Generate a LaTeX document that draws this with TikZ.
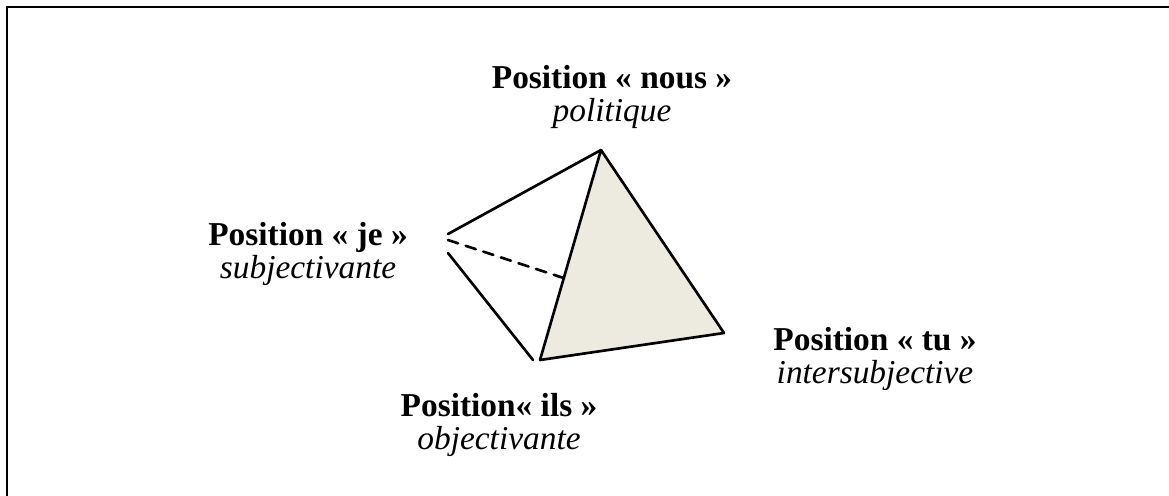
\documentclass[tikz,border=0pt]{standalone}
\usepackage{fontspec}
\setmainfont{Liberation Serif}
\usetikzlibrary{positioning, calc}
\definecolor{facegray}{RGB}{237,234,224}

\begin{document}
\begin{tikzpicture}[
        x=0.3774pt, y=-0.3774pt,
        label/.style={align=center, inner sep=0pt, font=\fontsize{12.6}{12.3}\selectfont},
        edge/.style={draw=black, line width=1pt, line cap=round},
        hidden/.style={edge, dashed, dash pattern=on 4pt off 3pt}
    ]
    \useasboundingbox (0,0) rectangle (1169,496);

    % Frame
    \draw[line width=0.8pt] (7,496) -- (7,7) -- (1169,7);

    % Vertices
    \coordinate (top) at (601,150);
    \coordinate (right) at (724,333);
    \coordinate (bottom) at (540,360);
    \coordinate (leftA) at (448,234);
    \coordinate (leftB) at (448,240);
    \coordinate (leftC) at (448,253);
    \coordinate (bottomL) at (533,360);
    \coordinate (behind) at ($(top)!0.61!(bottom)$);

    % Faces
    \filldraw[edge, fill=facegray, line join=round] (top) -- (right) -- (bottom) -- cycle;
    \draw[edge] (leftA) -- (top);
    \draw[edge] (leftC) -- (bottomL);
    \draw[hidden] (leftB) -- (behind);

    % Nodes
    \node[label] (nous) at (612,97) {\textbf{Position « nous »}\\ \textit{politique}};
    \node[label] (je) at (308,254) {\textbf{Position « je »}\\ \textit{subjectivante}};
    \node[label] (tu) at (875,359) {\textbf{Position « tu »}\\ \textit{intersubjective}};
    \node[label] (ils) at (499,425) {\textbf{Position« ils »}\\ \textit{objectivante}};
\end{tikzpicture}
\end{document}
